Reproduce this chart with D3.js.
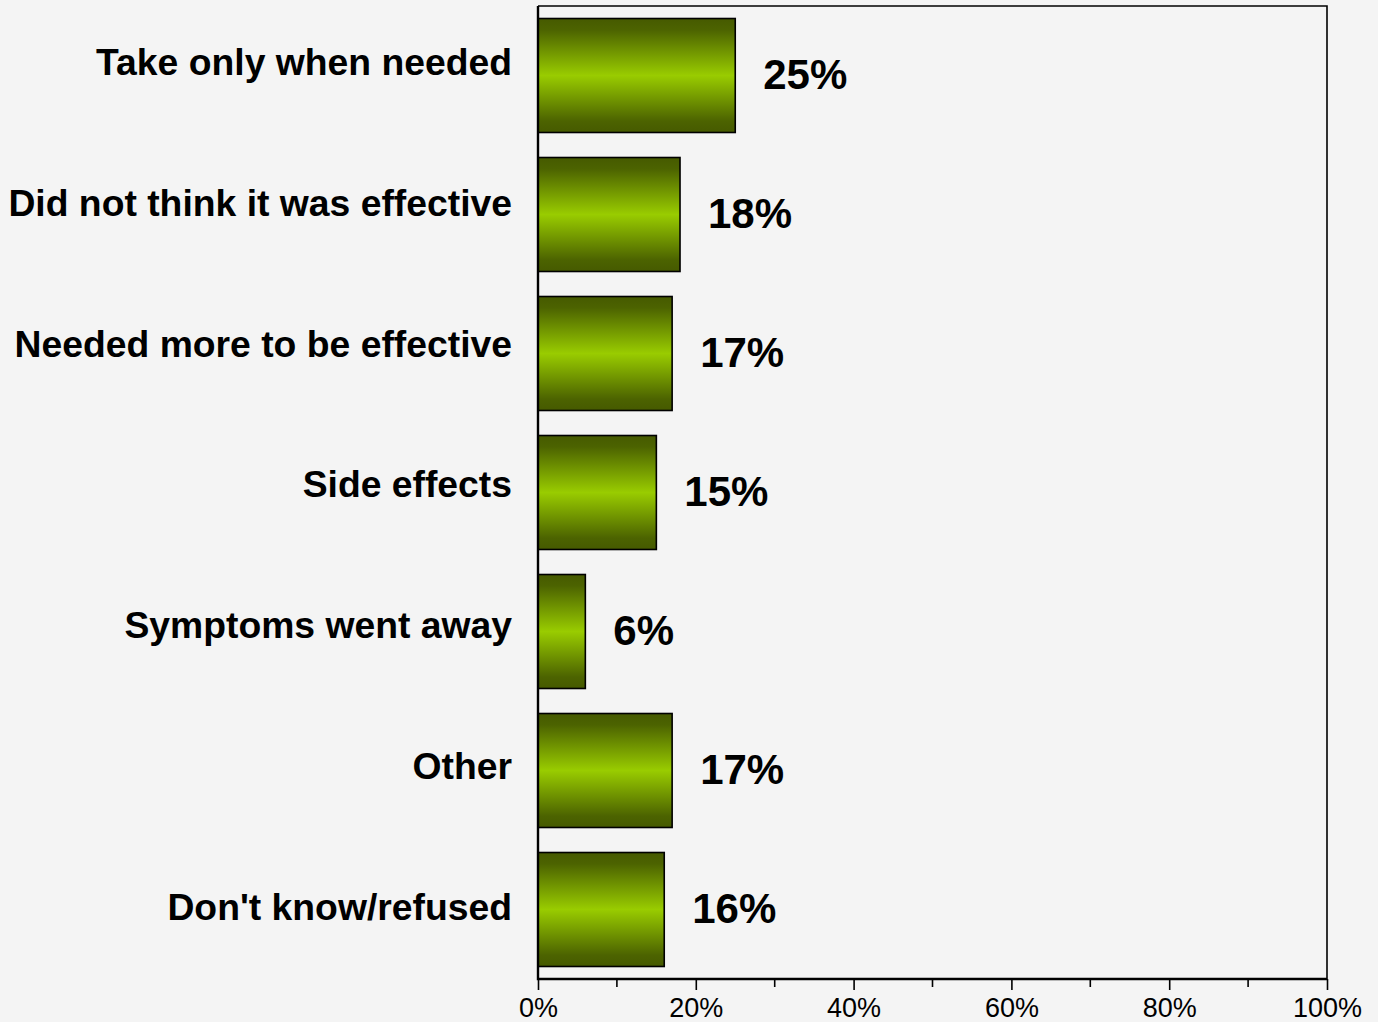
<!DOCTYPE html>
<html>
<head>
<meta charset="utf-8">
<script src="https://cdn.jsdelivr.net/npm/d3@7"></script>
<style>
  html, body { margin: 0; padding: 0; background: #f4f4f4; }
  svg { display: block; }
  text { font-family: Arial, "Liberation Sans", sans-serif; fill: #000; }
</style>
</head>
<body>
<script>
// Reasons for stopping the medication (share of respondents)
const categories = [
  "Take only when needed",
  "Did not think it was effective",
  "Needed more to be effective",
  "Side effects",
  "Symptoms went away",
  "Other",
  "Don't know/refused"
];
const values = [25, 18, 17, 15, 6, 17, 16];
const valueLabels = ["25%", "18%", "17%", "15%", "6%", "17%", "16%"];
const tickValues = [0, 20, 40, 60, 80, 100];
const minorTickValues = [10, 30, 50, 70, 90];

const width = 1378, height = 1022;
const plot = { left: 538, right: 1327, top: 6, bottom: 979 };

const svg = d3.select("body").append("svg")
  .attr("width", width)
  .attr("height", height);

svg.append("rect").attr("width", width).attr("height", height).attr("fill", "#f4f4f4");

// Vertical shading of the bars: dark olive edges, bright green middle
const grad = svg.append("defs").append("linearGradient")
  .attr("id", "barShade")
  .attr("x1", 0).attr("y1", 0).attr("x2", 0).attr("y2", 1);
[[0, "#465a00"], [0.1, "#4c6300"], [0.5, "#99cc00"], [0.9, "#4c6300"], [1, "#465a00"]]
  .forEach(([o, c]) => grad.append("stop").attr("offset", o).attr("stop-color", c));

const x = d3.scaleLinear().domain([0, 100]).range([plot.left, plot.right]);
const y = d3.scaleBand()
  .domain(categories)
  .range([plot.top, plot.bottom])
  .paddingInner(0.18)
  .paddingOuter(0.09);
// Category captions sit on a slightly wider pitch than the bars
const yLabel = d3.scaleBand()
  .domain(categories)
  .range([plot.top, plot.top + categories.length * 140.7]);

// Frame: thin top and right edges
svg.append("path")
  .attr("d", `M${plot.left},${plot.top}H${plot.right}V${plot.bottom}`)
  .attr("fill", "none").attr("stroke", "#000").attr("stroke-width", 1.6);

// Bars
svg.append("g").selectAll("rect")
  .data(categories)
  .join("rect")
  .attr("x", x(0))
  .attr("y", d => y(d))
  .attr("width", (d, i) => x(values[i]) - x(0))
  .attr("height", y.bandwidth())
  .attr("fill", "url(#barShade)")
  .attr("stroke", "#000")
  .attr("stroke-width", 1.6);

// Value labels at the bar ends
svg.append("g").selectAll("text")
  .data(categories)
  .join("text")
  .attr("x", (d, i) => x(values[i]) + 28)
  .attr("y", d => y(d) + y.bandwidth() / 2 + 13)
  .attr("font-size", 42)
  .attr("font-weight", "bold")
  .text((d, i) => valueLabels[i]);

// Category captions
svg.append("g").selectAll("text")
  .data(categories)
  .join("text")
  .attr("x", 512)
  .attr("y", d => yLabel(d) + yLabel.bandwidth() / 2 - 1)
  .attr("text-anchor", "end")
  .attr("font-size", 37.3)
  .attr("font-weight", "bold")
  .text(d => d);

// Bottom axis with major and minor ticks
const axisG = svg.append("g").attr("transform", `translate(0,${plot.bottom})`);
axisG.call(d3.axisBottom(x)
  .tickValues(tickValues)
  .tickSize(11)
  .tickPadding(8)
  .tickFormat(d => d + "%"));
axisG.select(".domain").remove();
axisG.selectAll(".tick line").attr("stroke", "#000").attr("stroke-width", 1.6);
axisG.selectAll(".tick text")
  .attr("font-size", 27)
  .attr("font-family", "Arial, 'Liberation Sans', sans-serif")
  .attr("fill", "#000");
axisG.selectAll(".minor").data(minorTickValues).join("line")
  .attr("class", "minor")
  .attr("x1", d => x(d)).attr("x2", d => x(d))
  .attr("y1", 0).attr("y2", 8)
  .attr("stroke", "#000").attr("stroke-width", 1.6);

// Heavier left and bottom axis lines
svg.append("path")
  .attr("d", `M${plot.left},${plot.top}V${plot.bottom}H${plot.right}`)
  .attr("fill", "none").attr("stroke", "#000").attr("stroke-width", 2.4);
</script>
</body>
</html>
